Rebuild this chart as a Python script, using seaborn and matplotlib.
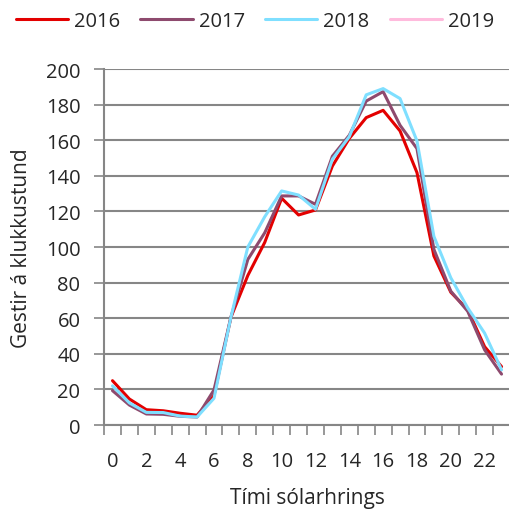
import numpy as np
import pandas as pd
import matplotlib
matplotlib.use("Agg")
import matplotlib.pyplot as plt
import seaborn as sns

hours = list(range(24))
tick_labels = [str(h) for h in range(0, 24, 2)]
years = ["2016", "2017", "2018", "2019"]
values_2016 = [24.9, 14.6, 8.6, 8.0, 6.6, 5.5, 16.5, 60.5, 84, 102.6, 127.4, 118, 120.8, 145.5,
               161, 172.7, 176.8, 165.2, 141.8, 95, 74.6, 64.8, 44, 32.8]
values_2017 = [19.3, 11.2, 6.2, 6.0, 4.9, 4.5, 19.7, 60.5, 93, 108, 128.7, 128.7, 124, 151,
               162.8, 182, 187.3, 168.4, 155.3, 98.7, 75.2, 63.9, 42.2, 28.6]
values_2018 = [22, 12.4, 7.1, 7.0, 5.0, 4.5, 15, 60.5, 100, 117, 131.5, 129.2, 121.2, 149.3,
               162, 185.5, 189, 183.4, 159.6, 106, 82.7, 65.8, 51.6, 31]
values_2019 = [np.nan] * 24
colors = {"2016": "#E30000", "2017": "#8E4A6E", "2018": "#7FDFFF", "2019": "#FFBBDD"}

sns.set_theme(style="white")
plt.rcParams["font.family"] = ["Open Sans", "DejaVu Sans"]

df = pd.DataFrame({
    "hour": hours * 3,
    "value": values_2016 + values_2017 + values_2018,
    "year": ["2016"] * 24 + ["2017"] * 24 + ["2018"] * 24,
})

fig = plt.figure(figsize=(5.1, 5.1), dpi=100)
ax = fig.add_axes([0.204, 0.1647, 0.796, 0.698])

sns.lineplot(data=df, x="hour", y="value", hue="year", palette=colors,
             hue_order=["2016", "2017", "2018"], linewidth=2.2, ax=ax, legend=False)
ax.plot(hours, values_2019, color=colors["2019"], linewidth=2.2)

ax.set_xlim(-0.5, 23.5)
ax.set_ylim(0, 200)
ax.set_yticks(range(0, 201, 20))
ax.set_xticks(np.arange(-0.5, 24, 1), minor=False)
ax.set_xticklabels([])
ax.set_xticks(range(0, 24, 2), minor=True)
ax.set_xticklabels(tick_labels, minor=True)
ax.tick_params(axis="x", which="major", length=7, width=1.2, color="#868686", direction="out", bottom=True)
ax.tick_params(axis="x", which="minor", length=0, labelsize=14.5, pad=19)
ax.tick_params(axis="y", length=7, width=1.2, color="#868686", labelsize=14.5, left=True, pad=10)

ax.grid(axis="y", color="#868686", linewidth=1.5)
ax.grid(axis="x", visible=False)
ax.set_axisbelow(True)
for s in ["top", "right"]:
    ax.spines[s].set_visible(False)
for s in ["left", "bottom"]:
    ax.spines[s].set_color("#868686")
    ax.spines[s].set_linewidth(1.5)

ax.set_xlabel("Tími sólarhrings", fontsize=15, labelpad=11)
ax.set_ylabel("Gestir á klukkustund", fontsize=15, labelpad=10)

handles = [plt.Line2D([], [], color=colors[y], linewidth=2.2) for y in years]
fig.legend(handles, years, loc="upper center", bbox_to_anchor=(0.5, 1.012), ncol=4,
           frameon=False, fontsize=14.5, handlelength=2.6, handletextpad=0.3, columnspacing=1.0)

fig.savefig("out.png", dpi=100)
